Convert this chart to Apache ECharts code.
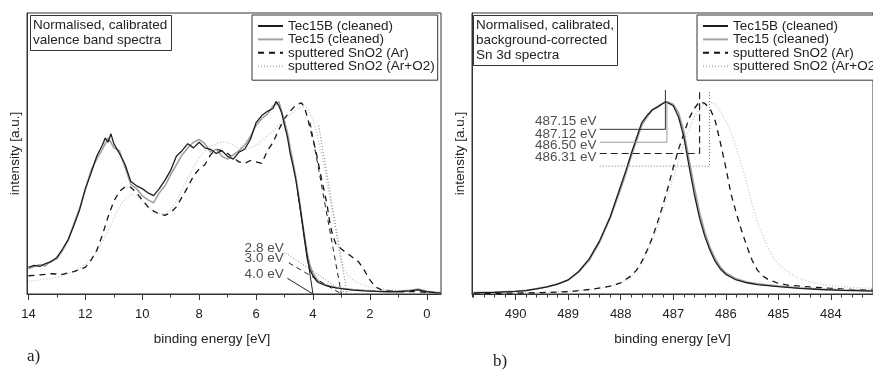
<!DOCTYPE html>
<html><head><meta charset="utf-8">
<script src="https://cdn.jsdelivr.net/npm/echarts@6/dist/echarts.min.js"></script>
<style>html,body{margin:0;padding:0;background:#fff;}#c{width:873px;height:372px;}</style>
</head><body><div id="c"></div>
<script>
// ---------- names ----------
const seriesNames = ['Tec15B (cleaned)', 'Tec15 (cleaned)', 'sputtered SnO2 (Ar)', 'sputtered SnO2 (Ar+O2)'];
const titleA = 'Normalised, calibrated\nvalence band spectra';
const titleB = 'Normalised, calibrated,\nbackground-corrected\nSn 3d spectra';
const xNameA = 'binding energy [eV]';
const xNameB = 'binding energy [eV]';
const yName = 'intensity [a.u.]';

// ---------- panel a: valence band ----------
const vbTicksMajor = [0, 2, 4, 6, 8, 10, 12, 14];
const vbTicksMinor = [0, 1, 2, 3, 4, 5, 6, 7, 8, 9, 10, 11, 12, 13, 14];

const tecE = [14.0,13.8,13.6,13.4,13.2,13.0,12.8,12.6,12.4,12.2,12.0,11.8,11.6,11.4,11.3,11.2,11.1,
  11.0,10.8,10.6,10.4,10.2,10.0,9.8,9.6,9.4,9.2,9.0,8.8,8.6,8.4,8.2,8.0,7.8,7.6,7.4,7.2,7.0,6.8,6.6,6.4,6.2,6.0,5.8,5.6,5.4,
  5.3,5.2,5.1,5.0,4.9,4.8,4.7,4.6,4.5,4.4,4.3,4.2,4.1,4.0,3.9,3.8,
  3.6,3.4,3.2,3.0,2.6,2.2,1.8,1.4,1.0,0.6,0.3,0.0,-0.3,-0.5];
const vbTec15B = [9.5,10.2,9.8,10.8,11.5,13.0,16.0,19.5,24.5,30.0,37.5,43.0,49.0,53.0,55.5,54.0,57.0,
  53.5,50.0,46.0,40.0,38.5,37.5,36.0,35.0,37.5,40.5,44.0,49.0,51.0,53.5,52.0,54.0,52.0,51.5,50.0,51.0,49.0,48.0,50.5,51.5,55.0,61.0,63.5,65.0,66.0,
  68.5,67.0,64.5,60.0,56.0,50.0,45.5,40.5,34.0,27.0,19.5,12.5,8.5,6.5,5.0,4.0,
  3.2,2.6,2.2,1.9,1.4,1.1,0.9,0.8,0.8,1.1,1.5,0.8,0.5,0.4];
const vbTec15 = [9.0,9.8,10.5,10.0,11.8,12.5,15.5,19.0,25.0,30.5,37.0,44.0,48.0,51.5,53.5,55.5,54.0,
  52.0,51.0,45.0,39.0,37.5,35.0,33.5,32.5,36.0,38.5,42.5,46.0,49.5,52.0,54.0,55.0,53.5,50.5,51.5,49.0,48.0,49.5,51.0,53.0,56.0,60.0,62.5,64.0,67.0,
  67.5,68.5,65.0,61.5,57.5,52.0,47.0,41.5,35.0,28.0,21.0,14.5,10.0,7.5,5.8,4.5,
  3.5,2.8,2.3,2.0,1.6,1.3,1.1,1.0,1.0,1.3,1.8,1.0,0.6,0.5];

const sputE = [14.0,13.6,13.2,12.8,12.4,12.0,
  11.8,11.6,11.4,11.2,11.0,10.8,10.6,10.4,10.2,10.0,9.8,9.6,9.4,9.2,9.0,8.8,8.6,8.4,8.2,8.0,7.8,7.6,7.4,7.2,7.0,6.8,6.6,6.4,6.2,6.0,5.8,5.6,5.4,5.2,5.0,4.8,4.6,
  4.4,4.3,4.2,4.1,4.0,3.9,3.8,3.7,3.6,3.5,3.4,3.3,3.2,3.1,3.0,2.9,2.8,
  2.6,2.4,2.2,2.0,1.8,1.6,1.2,0.8,0.4,0.0,-0.5];
const vbSputAr = [6.5,6.8,7.2,7.0,8.0,9.5,
  12.0,15.5,21.0,27.5,33.0,36.5,38.2,38.0,36.0,33.5,31.0,29.5,28.5,28.0,29.0,31.0,34.5,38.0,42.0,44.5,46.0,49.5,51.5,51.0,50.0,48.5,47.0,46.5,47.5,47.0,46.5,51.0,54.0,58.5,62.5,65.0,67.3,
  68.0,66.5,63.0,59.0,55.0,51.0,46.0,41.0,36.5,31.5,25.0,20.5,18.0,17.0,16.0,15.2,14.5,
  13.0,11.5,8.5,5.0,2.5,1.5,1.0,0.8,0.9,0.6,0.4];
const vbSputArO2 = [4.5,5.0,5.5,6.5,8.0,10.5,
  12.5,15.0,18.5,22.5,27.0,31.0,34.0,35.5,35.0,33.0,31.0,29.5,28.5,28.5,30.0,33.0,37.0,41.0,45.0,48.5,51.0,52.5,53.5,54.0,54.0,53.0,52.0,51.5,52.0,53.0,54.5,56.5,58.0,60.0,62.0,64.0,65.5,
  66.5,66.5,66.0,64.5,62.0,58.5,54.5,50.0,45.0,39.5,34.0,28.0,22.0,16.5,12.0,9.0,7.0,
  5.0,3.8,3.0,2.5,2.1,1.8,1.4,1.3,1.4,1.0,0.6];

// band-edge onsets (linear extrapolation to the baseline)
const edgeOnsets = [2.8, 3.0, 4.0];
const edgeLabels = ['2.8 eV', '3.0 eV', '4.0 eV'];
const edgeFitTopE = [3.8, 4.1, 4.55];
const edgeFitTopV = [60, 61, 37];

// ---------- panel b: Sn 3d ----------
const snTicksMajor = [484, 485, 486, 487, 488, 489, 490];

const snE_Tec15B = [490.8,490.4,490.0,489.8,489.6,489.4,489.2,489.0,488.8,488.6,488.4,488.2,488.0,487.9,487.8,487.7,487.6,487.5,487.4,487.3,487.2,487.15,487.1,487.0,486.9,486.8,486.7,486.6,486.5,486.4,486.3,486.2,486.1,486.0,485.8,485.6,485.4,485.0,484.6,484.2,483.8,483.2];
const snTec15B = [0.4,0.6,0.9,1.2,1.8,2.5,3.5,5.0,8.0,12.5,19.0,27.5,38.5,44.0,50.0,55.5,61.0,63.5,65.5,66.5,67.8,68.4,68.0,67.0,63.0,56.0,45.5,35.5,27.0,20.5,15.5,11.5,8.8,7.0,5.0,4.0,3.3,2.6,2.0,1.6,1.3,1.0];
const snE_Tec15 = [490.8,490.4,490.0,489.8,489.6,489.4,489.2,489.0,488.8,488.6,488.4,488.2,488.0,487.9,487.8,487.7,487.6,487.5,487.4,487.3,487.2,487.12,487.0,486.9,486.8,486.7,486.6,486.5,486.4,486.3,486.2,486.1,486.0,485.8,485.6,485.4,485.0,484.6,484.2,483.8,483.2];
const snTec15 = [0.5,0.7,1.0,1.3,1.9,2.6,3.6,5.0,7.8,12.0,18.5,27.0,37.5,43.0,49.0,54.5,60.0,63.0,65.5,66.8,67.8,68.4,67.5,64.5,58.0,48.0,38.0,29.0,22.0,16.5,12.5,9.5,7.5,5.4,4.3,3.6,2.8,2.2,1.8,1.5,1.2];
const snE_Ar = [490.8,490.0,489.5,489.0,488.5,488.2,488.0,487.8,487.7,487.6,487.5,487.4,487.3,487.2,487.1,487.0,486.9,486.8,486.7,486.6,486.5,486.4,486.3,486.2,486.1,486.0,485.9,485.8,485.7,485.6,485.5,485.4,485.3,485.2,485.0,484.8,484.4,484.0,483.6,483.2];
const snAr = [0.2,0.3,0.5,0.8,1.8,2.8,4.0,6.5,8.5,11.5,15.5,20.0,25.5,31.5,38.0,45.0,51.5,57.0,62.5,66.0,68.4,67.8,66.0,61.5,53.5,45.0,35.5,28.7,22.5,17.0,12.0,8.5,6.5,5.2,3.8,3.1,2.5,2.0,1.6,1.4];
const snE_ArO2 = [490.8,490.0,489.5,489.0,488.5,488.2,488.0,487.8,487.7,487.6,487.5,487.4,487.3,487.2,487.1,487.0,486.9,486.8,486.7,486.6,486.5,486.4,486.31,486.2,486.1,486.0,485.9,485.8,485.7,485.6,485.5,485.4,485.3,485.2,485.1,485.0,484.8,484.6,484.4,484.0,483.6,483.2];
const snArO2 = [0.3,0.4,0.6,1.0,1.8,2.8,3.8,6.0,8.0,11.0,14.5,19.0,24.0,29.5,35.5,41.5,47.5,53.5,58.5,63.0,66.0,67.8,68.4,67.5,65.0,61.5,57.5,52.0,46.0,39.0,32.0,25.5,21.0,16.5,13.0,10.5,7.5,5.5,4.3,3.0,2.3,2.0];

// peak positions and their annotations
const peakE = [487.15, 487.12, 486.50, 486.31];
const peakLabels = ['487.15 eV', '487.12 eV', '486.50 eV', '486.31 eV'];
const peakLevel = [58.6, 54.0, 50.0, 45.5];
const peakTop = [72.6, 68.4, 72.6, 72.6];

// ---------- build ----------
const FONT = '"Liberation Sans", Arial, Helvetica, sans-serif';
const FS = 13.5;
const TXT = '#222';
const AX = '#333';
function zip(xs, ys) { return xs.map((x, i) => [x, ys[i]]); }

const styles = [
  {color: '#1e1e1e', width: 1.3, type: 'solid'},
  {color: '#a2a2a2', width: 1.6, type: 'solid'},
  {color: '#151515', width: 1.3, type: [6, 5]},
  {color: '#bdbdbd', width: 1.1, type: [1, 2]}
];

function curve(name, data, st, xi, yi, z) {
  return {type: 'line', name: name, data: data, xAxisIndex: xi, yAxisIndex: yi,
    symbol: 'none', showSymbol: false, silent: true, z: z,
    lineStyle: {color: st.color, width: st.width, type: st.type}, itemStyle: {color: st.color}};
}
function seg(data, st, xi, yi) {
  return {type: 'line', name: '_ann', data: data, xAxisIndex: xi, yAxisIndex: yi,
    symbol: 'none', showSymbol: false, silent: true, z: 5,
    lineStyle: {color: st.color, width: st.width, type: st.type}};
}
function labelSeries(points, texts, xi, yi) {
  return {type: 'scatter', name: '_lab', xAxisIndex: xi, yAxisIndex: yi, symbolSize: 0, silent: true, z: 6,
    data: points.map((p, i) => ({value: p, name: texts[i]})),
    label: {show: true, position: 'left', distance: 0, formatter: p => p.name,
      fontFamily: FONT, fontSize: FS, color: TXT}};
}

const series = [];
// panel a curves (draw order: dotted, dashed, grey, black)
series.push(curve(seriesNames[3], zip(sputE, vbSputArO2), styles[3], 0, 0, 2));
series.push(curve(seriesNames[2], zip(sputE, vbSputAr), styles[2], 0, 0, 3));
series.push(curve(seriesNames[1], zip(tecE, vbTec15), styles[1], 0, 0, 3));
series.push(curve(seriesNames[0], zip(tecE, vbTec15B), styles[0], 0, 0, 4));
// panel a: extrapolation lines and label pointers
const edgeStyles = [
  {color: '#777', width: 1, type: [1, 2]},
  {color: '#222', width: 1, type: [5, 4]},
  {color: '#222', width: 1, type: 'solid'}
];
const labAnchorE = 5.03;
const labAnchorV = [16.4, 12.6, 7.0];
const pointerStart = [[4.96, 14.6], [4.85, 11.1], [4.9, 5.6]];
edgeOnsets.forEach((on, i) => {
  series.push(seg([[edgeFitTopE[i], edgeFitTopV[i]], [on, 0]], edgeStyles[i], 0, 0));
  series.push(seg([pointerStart[i], [on, 0]], edgeStyles[i], 0, 0));
});
series.push(labelSeries(labAnchorV.map(v => [labAnchorE, v]), edgeLabels, 0, 0));

// panel b curves
series.push(curve(seriesNames[3], zip(snE_ArO2, snArO2), styles[3], 2, 1, 2));
series.push(curve(seriesNames[2], zip(snE_Ar, snAr), styles[2], 2, 1, 3));
series.push(curve(seriesNames[1], zip(snE_Tec15, snTec15), styles[1], 2, 1, 3));
series.push(curve(seriesNames[0], zip(snE_Tec15B, snTec15B), styles[0], 2, 1, 4));
const peakStyles = [
  {color: '#333', width: 1, type: 'solid'},
  {color: '#999', width: 1, type: 'solid'},
  {color: '#222', width: 1.2, type: [7, 4]},
  {color: '#777', width: 1, type: [1, 2]}
];
const hStartE = 488.40;
peakE.forEach((e, i) => {
  series.push(seg([[hStartE, peakLevel[i]], [e, peakLevel[i]], [e, peakTop[i]]], peakStyles[i], 2, 1));
});
series.push(labelSeries(peakLevel.map(v => [488.46, v + 3.0]), peakLabels, 2, 1));

function minorAxis(grid, min, max, extra) {
  return Object.assign({type: 'value', gridIndex: grid, min: min, max: max, inverse: true, position: 'bottom',
    axisLine: {show: true, onZero: false, lineStyle: {color: AX, width: 1}},
    axisTick: {show: true, length: 3.5, lineStyle: {color: AX}},
    axisLabel: {show: false}, splitLine: {show: false}}, extra);
}
function majorAxis(grid, min, max, ticks, name, namePad) {
  return {type: 'value', gridIndex: grid, min: min, max: max, inverse: true, position: 'bottom',
    axisLine: {show: false, onZero: false},
    axisTick: {show: true, length: 6, customValues: ticks, lineStyle: {color: AX}},
    axisLabel: {show: true, customValues: ticks, margin: 14, fontFamily: FONT, fontSize: 13, color: TXT},
    splitLine: {show: false},
    name: name, nameLocation: 'middle', nameGap: 38,
    nameTextStyle: {fontFamily: FONT, fontSize: FS, color: TXT, padding: namePad}};
}
function yAx(grid) {
  return {type: 'value', gridIndex: grid, min: 0, max: 100, position: 'left',
    axisLine: {show: true, onZero: false, lineStyle: {color: AX, width: 1}}, axisTick: {show: false},
    axisLabel: {show: false}, splitLine: {show: false},
    name: yName, nameLocation: 'middle', nameGap: 5,
    nameTextStyle: {fontFamily: FONT, fontSize: FS, color: TXT}};
}

const legendCommon = {data: seriesNames, orient: 'vertical', top: 15, itemWidth: 25, itemHeight: 11, itemGap: -0.6,
  padding: [4, 3, 7, 5], borderColor: AX, borderWidth: 1, borderRadius: 0, backgroundColor: '#fff',
  selectedMode: false, itemStyle: {opacity: 0, borderWidth: 0},
  textStyle: {fontFamily: FONT, fontSize: FS, color: TXT}};
const titleCommon = {top: 15, borderColor: AX, borderWidth: 1, padding: [3, 4, 3, 3],
  textStyle: {fontFamily: FONT, fontSize: FS, fontWeight: 'normal', color: TXT, lineHeight: 15}};

const option = {
  animation: false,
  backgroundColor: '#fff',
  title: [
    Object.assign({text: titleA, left: 30}, titleCommon),
    Object.assign({text: titleB, left: 473}, titleCommon)
  ],
  legend: [
    Object.assign({left: 252}, legendCommon),
    Object.assign({left: 697}, legendCommon)
  ],
  grid: [
    {left: 27, top: 13, width: 414, height: 281, show: true, borderColor: AX, borderWidth: 1, backgroundColor: 'transparent'},
    {left: 472, top: 13, width: 403, height: 281, show: true, borderColor: AX, borderWidth: 1, backgroundColor: 'transparent'}
  ],
  xAxis: [
    minorAxis(0, -0.5, 14.05, {axisTick: {show: true, length: 3.5, customValues: vbTicksMinor, lineStyle: {color: AX}}}),
    majorAxis(0, -0.5, 14.05, vbTicksMajor, xNameA, [0, 44, 0, 0]),
    minorAxis(1, 483.2, 490.83, {interval: 0.2}),
    majorAxis(1, 483.2, 490.83, snTicksMajor, xNameB, [0, 0, 0, 0])
  ],
  yAxis: [yAx(0), yAx(1)],
  graphic: [
    {type: 'text', left: 27, top: 348, style: {text: 'a)', font: '17px "Liberation Serif", serif', fill: TXT}},
    {type: 'text', left: 493, top: 353, style: {text: 'b)', font: '17px "Liberation Serif", serif', fill: TXT}}
  ],
  series: series
};
const chart = echarts.init(document.getElementById('c'), null, {renderer: 'canvas'});
chart.setOption(option);
</script>
</body></html>
